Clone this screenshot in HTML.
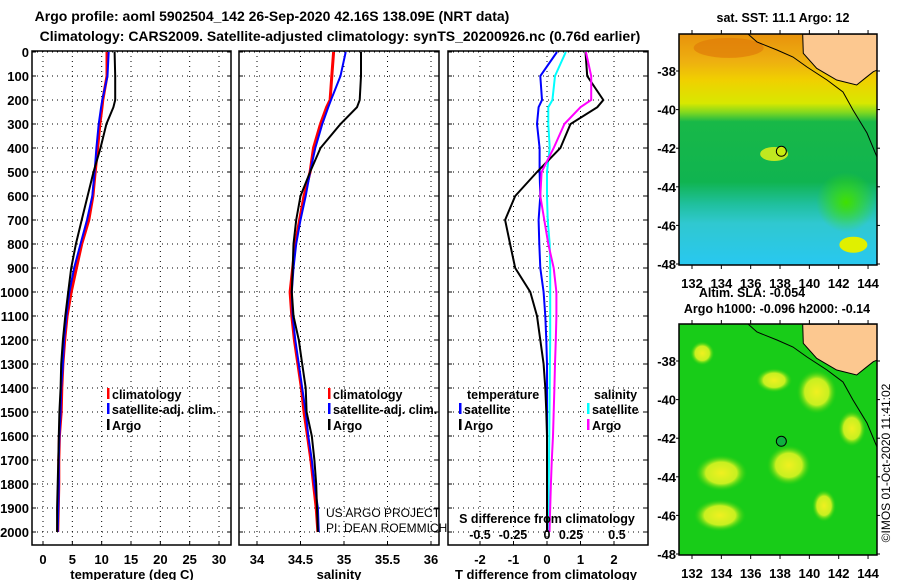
<!DOCTYPE html>
<html><head><meta charset="utf-8"><style>
body{margin:0;background:#fff;}
svg{display:block;font-family:"Liberation Sans",sans-serif;font-weight:bold;}
</style></head><body>
<svg id="c" width="900" height="580" viewBox="0 0 900 580" xmlns="http://www.w3.org/2000/svg">
<defs>
<linearGradient id="sstg" x1="0" y1="0" x2="0" y2="1">
<stop offset="0" stop-color="#e8920c"/><stop offset="0.12" stop-color="#eeb010"/><stop offset="0.2" stop-color="#f0d000"/>
<stop offset="0.3" stop-color="#d8e800"/><stop offset="0.34" stop-color="#80d820"/><stop offset="0.38" stop-color="#18b848"/>
<stop offset="0.64" stop-color="#10b450"/><stop offset="0.74" stop-color="#20c0a0"/><stop offset="0.82" stop-color="#30c8d0"/><stop offset="1" stop-color="#28c8f0"/>
</linearGradient>
<radialGradient id="blob"><stop offset="0" stop-color="#f0f020"/><stop offset="0.6" stop-color="#c8f020"/><stop offset="1" stop-color="#30d010" stop-opacity="0"/></radialGradient>
<radialGradient id="gblob"><stop offset="0" stop-color="#40e000"/><stop offset="1" stop-color="#40e000" stop-opacity="0"/></radialGradient>
</defs>
<text x="272" y="21" font-size="14" text-anchor="middle">Argo profile: aoml 5902504_142 26-Sep-2020 42.16S 138.09E (NRT data)</text>
<text x="340" y="41" font-size="14" text-anchor="middle">Climatology: CARS2009. Satellite-adjusted climatology: synTS_20200926.nc (0.76d earlier)</text>
<g id="plots"></g>
<g id="maps"></g>
</svg>
<script>
// ---- profile data ----
const depths = [0,100,200,230,300,400,500,600,700,800,900,1000,1100,1200,1300,1400,1500,1600,1700,1800,1900,2000];
const tempArgo = [12.2,12.3,12.3,12.0,10.8,9.8,8.6,7.6,6.6,5.6,4.8,4.3,3.8,3.4,3.1,3.0,2.8,2.7,2.6,2.5,2.4,2.4];
const tempClim = [10.9,10.9,10.2,10.05,9.7,9.3,8.9,8.5,7.8,6.6,5.7,4.8,4.1,3.7,3.4,3.2,3.1,2.8,2.7,2.7,2.6,2.5];
const tempSat  = [11.2,11.0,10.1,9.9,9.5,9.1,8.8,8.4,7.5,6.4,5.3,4.5,4.0,3.6,3.4,3.1,3.0,2.8,2.7,2.7,2.6,2.5];
const salArgo = [35.195,35.195,35.18,35.15,34.96,34.73,34.61,34.50,34.45,34.42,34.41,34.40,34.42,34.48,34.52,34.56,34.57,34.63,34.66,34.68,34.69,34.70];
const salClim = [34.88,34.86,34.84,34.80,34.73,34.65,34.61,34.54,34.49,34.44,34.41,34.38,34.40,34.43,34.47,34.51,34.54,34.58,34.62,34.65,34.68,34.70];
const salSat  = [35.02,34.96,34.85,34.82,34.75,34.67,34.61,34.56,34.50,34.45,34.42,34.40,34.41,34.44,34.48,34.52,34.56,34.59,34.63,34.66,34.70,34.71];
const dTArgo = [1.15,1.2,1.68,1.5,0.7,0.4,-0.3,-0.95,-1.25,-1.1,-0.95,-0.5,-0.3,-0.2,-0.1,-0.05,-0.02,0,0,0,0,0];
const dTSat  = [0.3,-0.2,-0.15,-0.25,-0.3,-0.22,-0.22,-0.2,-0.25,-0.23,-0.2,-0.1,-0.05,-0.02,0,0,0,0,0,0,0,0];
const dSArgo = [0.29,0.33,0.33,0.25,0.13,0.05,-0.04,-0.05,-0.02,0.01,0.05,0.07,0.07,0.066,0.06,0.055,0.05,0.045,0.036,0.029,0.024,0.019];
const dSSat  = [0.14,0.06,0.04,0.01,0.01,0.02,0,0,0.005,0.02,0.024,0.024,0.024,0.024,0.022,0.02,0.019,0.017,0.015,0.013,0.012,0.012];
const depthTicks = [0,100,200,300,400,500,600,700,800,900,1000,1100,1200,1300,1400,1500,1600,1700,1800,1900,2000];
const tempTicks = [0,5,10,15,20,25,30];
const salTicks = [34,34.5,35,35.5,36];
const salTickLabels = ['34','34.5','35','35.5','36'];
const dTTicks = [-2,-1,0,1,2];
const dSTickLabels = ['-0.5','-0.25','0','0.25','0.5'];
const dSTicks = [-0.5,-0.25,0,0.25,0.5];

const NS='http://www.w3.org/2000/svg';
const g=document.getElementById('plots');
function mk(tag,attrs,parent){const e=document.createElementNS(NS,tag);for(const k in attrs)e.setAttribute(k,attrs[k]);(parent||g).appendChild(e);return e;}
const top0=51, bot=545;
const yD = d => 52 + d*0.24;
const panels=[
 {x0:32,x1:231,sx:v=>43+v*5.867,name:'temperature-panel'},
 {x0:239,x1:439,sx:v=>257+(v-34)*87,name:'salinity-panel'},
 {x0:448,x1:648,sx:v=>547+v*33.5,name:'difference-panel'}
];
const sxS = v=>547+v*134;
panels.forEach((p,i)=>{
  const pg=mk('g',{});
  
  
  mk('rect',{x:p.x0,y:top0,width:p.x1-p.x0,height:bot-top0,fill:'#fff',stroke:'#000','stroke-width':1.5},pg);
  depthTicks.forEach(d=>{
    const l=mk('line',{x1:p.x0,x2:p.x1,y1:yD(d),y2:yD(d),stroke:'#000','stroke-width':1,'stroke-dasharray':'1,4'},pg);
    
    
    mk('line',{x1:p.x0,x2:p.x0+4,y1:yD(d),y2:yD(d),stroke:'#000'},pg);
    mk('line',{x1:p.x1-4,x2:p.x1,y1:yD(d),y2:yD(d),stroke:'#000'},pg);
  });
  const ticks=[tempTicks,salTicks,dTTicks][i];
  ticks.forEach((t,j)=>{
    const x=p.sx(t);
    mk('line',{x1:x,x2:x,y1:top0,y2:bot,stroke:'#000','stroke-width':1,'stroke-dasharray':'1,4'},pg);
    mk('line',{x1:x,x2:x,y1:bot,y2:bot-4,stroke:'#000'},pg);
    const tx=mk('text',{x:x,y:564,'font-size':13,'text-anchor':'middle'},pg);
    tx.textContent = i==1?salTickLabels[j]:String(t);
    
    
  });
});
depthTicks.forEach(d=>{
  const t=mk('text',{x:29,y:yD(d)+5,'font-size':13,'text-anchor':'end'});
  t.textContent=d;
  
  
});
[['temperature (deg C)',132,'x-axis-title-temperature'],['salinity',339,'x-axis-title-salinity'],['T difference from climatology',546,'x-axis-title-t-difference']].forEach(a=>{
  const t=mk('text',{x:a[1],y:579,'font-size':13,'text-anchor':'middle'});t.textContent=a[0];
  
  
});
function line(vals,sx,color,w,name){
  const pts=vals.map((v,k)=>sx(v).toFixed(1)+','+yD(depths[k]).toFixed(1)).join(' ');
  const pl=mk('polyline',{points:pts,fill:'none',stroke:color,'stroke-width':w,'stroke-linejoin':'miter'});
  
  
}
line(tempClim,panels[0].sx,'#ff0000',3,'temp-climatology-line');
line(tempSat,panels[0].sx,'#0000ff',2,'temp-satellite-line');
line(tempArgo,panels[0].sx,'#000',2,'temp-argo-line');
line(salClim,panels[1].sx,'#ff0000',3,'salinity-climatology-line');
line(salSat,panels[1].sx,'#0000ff',2,'salinity-satellite-line');
line(salArgo,panels[1].sx,'#000',2,'salinity-argo-line');
line(dSSat,sxS,'#00ffff',2,'s-diff-satellite-line');
line(dTSat,panels[2].sx,'#0000ff',2,'t-diff-satellite-line');
line(dTArgo,panels[2].sx,'#000',2,'t-diff-argo-line');
line(dSArgo,sxS,'#ff00ff',2,'s-diff-argo-line');
// legends
function leg(x,y,color,txt,name){
  if(color) mk('rect',{x:x,y:y-11,width:2.5,height:11,fill:color});
  const t=mk('text',{x:x+5,y:y,'font-size':12.5});t.textContent=txt;
  
  
}
leg(107,399,'#ff0000','climatology','legend-climatology');
leg(107,414,'#0000ff','satellite-adj. clim.','legend-satellite-adj');
leg(107,430,'#000','Argo','legend-argo');
leg(328,399,'#ff0000','climatology','legend-climatology-sal');
leg(328,414,'#0000ff','satellite-adj. clim.','legend-satellite-adj-sal');
leg(328,430,'#000','Argo','legend-argo-sal');
leg(462,399,null,'temperature','legend-temperature-head');
leg(459,414,'#0000ff','satellite','legend-t-satellite');
leg(459,430,'#000','Argo','legend-t-argo');
leg(589,399,null,'salinity','legend-salinity-head');
leg(587,414,'#00ffff','satellite','legend-s-satellite');
leg(587,430,'#ff00ff','Argo','legend-s-argo');
let t=mk('text',{x:326,y:517,'font-size':12,'font-weight':'normal'});t.textContent='US ARGO PROJECT';

t=mk('text',{x:326,y:532,'font-size':12,'font-weight':'normal'});t.textContent='PI: DEAN ROEMMICH';

t=mk('text',{x:547,y:523,'font-size':12.5,'text-anchor':'middle'});t.textContent='S difference from climatology';

const sLabX=[480,513,547,571,617];
dSTickLabels.forEach((s,j)=>{const e=mk('text',{x:sLabX[j],y:539,'font-size':12.5,'text-anchor':'middle'});e.textContent=s;
 });

// ---- maps ----
const mg=document.getElementById('maps');
const lonTicks=[132,134,136,138,140,142,144];
const latTicks=[-38,-40,-42,-44,-46,-48];
function drawMap(oy,kind){
  const mp=mk('g',{},mg);
  
  
  const X=l=>692+(l-132)*14.67, Y=la=>oy+71+(-38-la)*19.3;
  const x0=679,x1=877,y0=oy+34,y1=oy+265;
  const clip=mk('clipPath',{id:'cl'+kind},mp);
  mk('rect',{x:x0,y:y0,width:x1-x0,height:y1-y0},clip);
  const inner=mk('g',{'clip-path':'url(#cl'+kind+')'},mp);
  if(kind==='sst'){
    mk('rect',{x:x0,y:y0,width:x1-x0,height:y1-y0,fill:'url(#sstg)'},inner);
    mk('ellipse',{cx:X(142.5),cy:Y(-44.8),rx:30,ry:30,fill:'url(#gblob)'},inner);
    mk('ellipse',{cx:X(143),cy:Y(-47),rx:14,ry:8,fill:'#e0f000'},inner);
    mk('ellipse',{cx:X(137.6),cy:Y(-42.3),rx:14,ry:7,fill:'#c0e820'},inner);
    mk('ellipse',{cx:X(134.5),cy:Y(-36.8),rx:35,ry:10,fill:'#e07c08',opacity:0.7},inner);
  } else {
    mk('rect',{x:x0,y:y0,width:x1-x0,height:y1-y0,fill:'#18cc18'},inner);
    [[140.5,-39.6,20,22],[138.6,-43.4,22,20],[133.9,-46,26,16],[134,-43.8,26,18],[137.6,-39,18,12],[132.7,-37.6,12,12],[142.9,-41.5,14,18],[141,-45.5,12,16]].forEach(b=>
      mk('ellipse',{cx:X(b[0]),cy:Y(b[1]),rx:b[2],ry:b[3],fill:'url(#blob)'},inner));
  }
  const land=[[802.7,34.3],[803.3,53.3],[816.7,68.3],[836.7,80],[856.7,85],[865,78.3],[873.3,71.7],[877.3,70],[877.3,34]];
  const lp=mk('polygon',{points:land.map(p=>p[0]+','+(p[1]+oy)).join(' '),fill:'#fcc890',stroke:'#000','stroke-width':1},inner);
  
  const bath=[[748,34],[757,42],[777,50],[793,57],[807,67],[827,80],[843,92],[853,110],[867,133],[877,157]];
  mk('polyline',{points:bath.map(p=>p[0]+','+(p[1]+oy)).join(' '),fill:'none',stroke:'#000','stroke-width':1},inner);
  mk('rect',{x:x0,y:y0,width:x1-x0,height:y1-y0,fill:'none',stroke:'#000','stroke-width':1.5},mp);
  const c=mk('circle',{cx:X(138.09),cy:Y(-42.16),r:5,fill:kind==='sst'?'#c8ec10':'#10b040',stroke:'#000','stroke-width':1},mp);
  
  lonTicks.forEach(l=>{mk('line',{x1:X(l),x2:X(l),y1:y1,y2:y1+4,stroke:'#000'},mp);mk('line',{x1:X(l),x2:X(l),y1:y0-4,y2:y0,stroke:'#000'},mp);
    const e=mk('text',{x:X(l),y:oy+288,'font-size':13,'text-anchor':'middle'},mp);e.textContent=l;
    });
  latTicks.forEach(la=>{mk('line',{x1:x0-3,x2:x0,y1:Y(la),y2:Y(la),stroke:'#000'},mp);mk('line',{x1:x1,x2:x1+3,y1:Y(la),y2:Y(la),stroke:'#000'},mp);
    const e=mk('text',{x:676,y:Y(la)+5,'font-size':13,'text-anchor':'end'},mp);e.textContent=la;
    });
}
drawMap(0,'sst');
drawMap(290,'sla');
[['sat. SST: 11.1 Argo: 12',783,22,'sst-map-title'],['Altim. SLA: -0.054',752,297,'sla-map-title'],['Argo h1000: -0.096 h2000: -0.14',777,313,'argo-height-title']].forEach(a=>{
  const e=mk('text',{x:a[1],y:a[2],'font-size':12.5,'text-anchor':'middle'},mg);e.textContent=a[0];
  });
const cr=mk('text',{x:0,y:0,'font-size':12,'font-weight':'normal','text-anchor':'middle',transform:'translate(890,463) rotate(-90)'},mg);
cr.textContent='©IMOS 01-Oct-2020 11:41:02';

</script>
</body></html>
